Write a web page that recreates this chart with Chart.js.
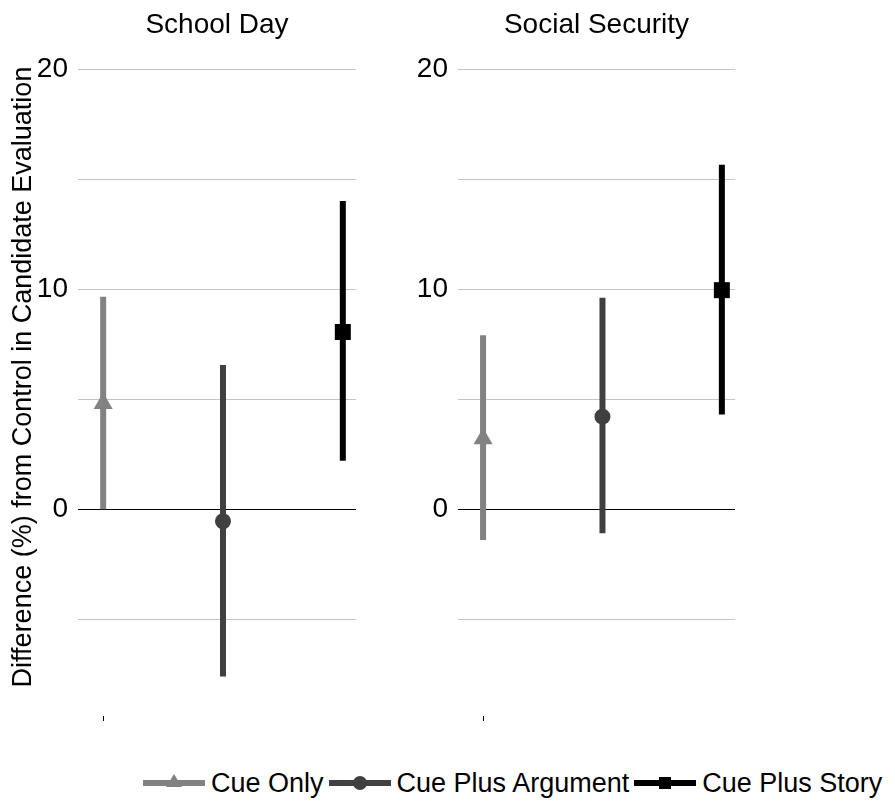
<!DOCTYPE html>
<html>
<head>
<meta charset="utf-8">
<script src="https://cdn.jsdelivr.net/npm/chart.js@4"></script>
<style>
  body { margin: 0; background: #fff; font-family: "Liberation Sans", Arial, sans-serif; }
  #wrap { position: relative; width: 895px; height: 806px; }
  .panel { position: absolute; top: 0; height: 745px; }
  #legend { position: absolute; left: 143px; top: 765px; height: 36px; display: flex; align-items: center; font-size: 27px; color: #000; white-space: nowrap; }
  #legend span.txt { margin: 0 5px 0 6px; }
</style>
</head>
<body>
<div id="wrap">
  <div class="panel" style="left:0;width:378px;"><canvas id="chartA"></canvas></div>
  <div class="panel" style="left:378px;width:517px;"><canvas id="chartB"></canvas></div>
  <div id="legend"></div>
</div>
<script>
// data
const categories = ['Cue Only', 'Cue Plus Argument', 'Cue Plus Story'];
const panels = ['School Day', 'Social Security'];

const schoolEst  = [4.8, -0.55, 8.05];
const schoolLow  = [0.0, -7.6, 2.2];
const schoolHigh = [9.65, 6.55, 14.0];

const socialEst  = [3.2, 4.2, 9.95];
const socialLow  = [-1.4, -1.1, 4.3];
const socialHigh = [7.9, 9.6, 15.65];

const yTicks = [0, 10, 20];
const yTitle = 'Difference (%) from Control in Candidate Evaluation';

const colors = ['#828282', '#404040', '#000000'];
const shapes = ['triangle', 'circle', 'rect'];
const radii = [11, 8, 11.3];

const font = "'Liberation Sans', Arial, sans-serif";

// panel title over the plot area, and the y title (left panel only)
const panelText = {
  id: 'panelText',
  afterDraw(chart, args, opts) {
    const ca = chart.chartArea;
    const ctx = chart.ctx;
    ctx.save();
    ctx.font = '28px ' + font;
    ctx.fillStyle = '#000';
    ctx.textAlign = 'center';
    ctx.textBaseline = 'middle';
    ctx.fillText(opts.text, (ca.left + ca.right) / 2, 25);
    if (opts.yTitle) {
      ctx.font = '27px ' + font;
      ctx.translate(24, (ca.top + ca.bottom) / 2 - 10);
      ctx.rotate(-Math.PI / 2);
      ctx.fillText(opts.yTitle, 0, 0);
    }
    ctx.restore();
  }
};

function makePanel(id, title, est, low, high, showTitle, axisWidth, padRight) {
  let datasets = [];
  categories.forEach((c, i) => {
    datasets.push({
      label: c,
      data: [{x: i + 1, y: est[i]}],
      pointStyle: shapes[i],
      pointRadius: radii[i],
      pointBackgroundColor: colors[i],
      pointBorderColor: colors[i],
      pointBorderWidth: 0,
      order: 0
    });
    datasets.push({
      label: c + ' CI',
      data: [{x: i + 1, y: low[i]}, {x: i + 1, y: high[i]}],
      showLine: true,
      borderColor: colors[i],
      borderWidth: 6,
      borderCapStyle: 'butt',
      pointRadius: 0,
      order: 1
    });
  });

  return new Chart(document.getElementById(id), {
    type: 'scatter',
    data: { datasets: datasets },
    plugins: [panelText],
    options: {
      responsive: true,
      maintainAspectRatio: false,
      animation: false,
      layout: { padding: { left: 0, right: padRight, top: 58, bottom: 0 } },
      plugins: {
        legend: { display: false },
        tooltip: { enabled: false },
        panelText: { text: title, yTitle: showTitle ? yTitle : null }
      },
      scales: {
        x: {
          type: 'linear',
          min: 0.79,
          max: 3.11,
          afterBuildTicks: s => { s.ticks = [{value: 1}]; },
          afterFit: s => { s.height = 29; },
          ticks: { callback: () => '', padding: 0 },
          grid: { drawOnChartArea: false, drawTicks: true, tickLength: 5, color: '#000', lineWidth: 1 },
          border: { display: false }
        },
        y: {
          min: -9.4,
          max: 20.5,
          afterFit: s => { s.width = axisWidth; },
          ticks: {
            stepSize: 5,
            includeBounds: false,
            padding: 10,
            color: '#000',
            font: { family: font, size: 28 },
            callback: v => yTicks.includes(v) ? v : ''
          },
          grid: {
            drawTicks: false,
            color: c => c.tick && c.tick.value === 0 ? '#000' : '#c4c4c4',
            lineWidth: 1
          },
          border: { display: false }
        }
      }
    }
  });
}

makePanel('chartA', panels[0], schoolEst, schoolLow, schoolHigh, true, 78, 22);
makePanel('chartB', panels[1], socialEst, socialLow, socialHigh, false, 80, 160);

// legend
const legend = document.getElementById('legend');
const symbolSvg = [
  '<polygon points="31,2 39,15 23,15" fill="#828282"/>',
  '<circle cx="31" cy="11" r="7" fill="#404040"/>',
  '<rect x="25" y="5" width="12" height="12" fill="#000"/>'
];
categories.forEach((c, i) => {
  let sym = document.createElement('span');
  sym.innerHTML = '<svg width="62" height="22" style="display:block"><line x1="0" y1="11" x2="62" y2="11" stroke="' +
    colors[i] + '" stroke-width="6"/>' + symbolSvg[i] + '</svg>';
  legend.appendChild(sym);
  let t = document.createElement('span');
  t.className = 'txt';
  t.textContent = c;
  legend.appendChild(t);
});
</script>
</body>
</html>
